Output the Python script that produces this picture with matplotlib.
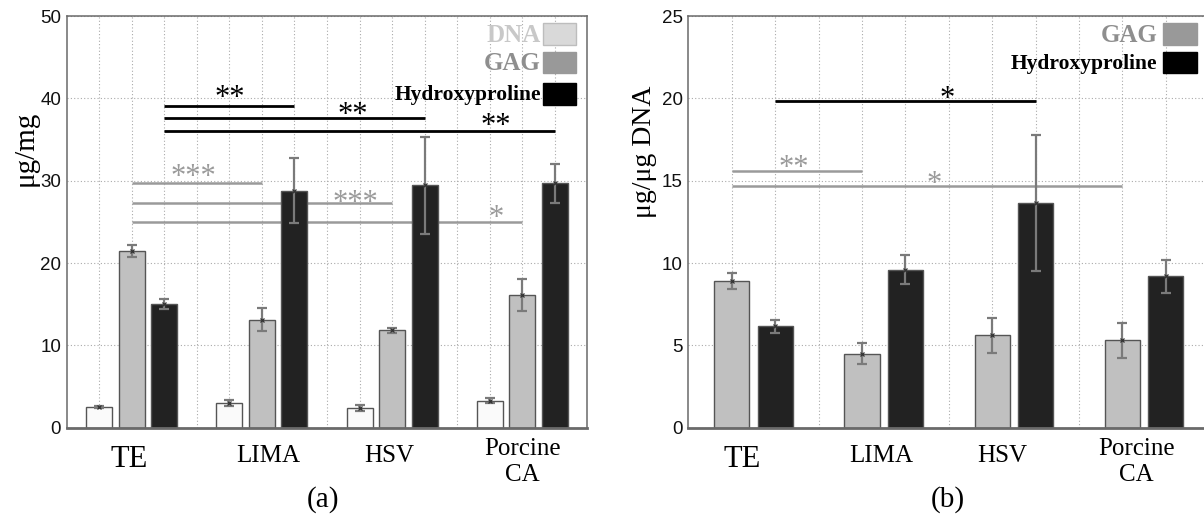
import numpy as np
import matplotlib
matplotlib.use("Agg")
import matplotlib.pyplot as plt
from matplotlib.patches import Rectangle
from matplotlib.transforms import blended_transform_factory

# ---- data -------------------------------------------------------------
groups = ["TE", "LIMA", "HSV", "Porcine\nCA"]

# (a) content per tissue mass, ug/mg
a_dna = [2.5, 3.0, 2.4, 3.3]
a_dna_err = [0.15, 0.35, 0.35, 0.3]
a_gag = [21.5, 13.1, 11.85, 16.1]
a_gag_err = [0.75, 1.4, 0.3, 1.9]
a_hyp = [15.0, 28.8, 29.45, 29.7]
a_hyp_err = [0.6, 3.9, 5.9, 2.35]

# (b) content normalised to DNA, ug/ug DNA
b_gag = [8.9, 4.5, 5.6, 5.3]
b_gag_err = [0.48, 0.63, 1.08, 1.05]
b_hyp = [6.15, 9.6, 13.65, 9.2]
b_hyp_err = [0.38, 0.9, 4.15, 1.0]

# significance brackets: (series, group from, group to, height, stars)
a_sig = [("hyp", 0, 1, 39.1, "**"), ("hyp", 0, 2, 37.6, "**"), ("hyp", 0, 3, 36.0, "**"),
         ("gag", 0, 1, 29.68, "***"), ("gag", 0, 2, 27.3, "***"), ("gag", 0, 3, 25.0, "*")]
b_sig = [("hyp", 0, 2, 19.82, "*"), ("gag", 0, 1, 15.6, "**"), ("gag", 0, 3, 14.7, "*")]

# star label placement (x, y centre) for each bracket
a_star_pos = [(1.75, 40.7), (2.7, 38.7), (3.8, 37.3), (1.47, 31.1), (2.72, 27.9), (3.8, 26.1)]
b_star_pos = [(2.49, 20.3), (1.31, 16.1), (2.39, 15.1)]

# ---- styling ----------------------------------------------------------
C_DNA, C_GAG, C_HYP = "#fafafa", "#c0c0c0", "#222222"
C_ERR = "#7a7a7a"
C_SIG_GRAY = "#9a9a9a"
SERIF = ["Liberation Serif", "DejaVu Serif"]
SANS = ["Liberation Sans", "DejaVu Sans"]
STAR_FS = 22

fig = plt.figure(figsize=(12.04, 5.15), dpi=100)
axA = fig.add_axes([0.0554, 0.1695, 0.4324, 0.7994])
axB = fig.add_axes([0.5718, 0.1695, 0.4324, 0.7994])


def style_axes(ax, ylim, yticks, gridx):
    ax.set_xlim(0.5, 4.5)
    ax.set_ylim(*ylim)
    ax.set_yticks(yticks)
    ax.set_xticks(gridx)
    ax.set_xticklabels([])
    ax.tick_params(axis="x", length=0)
    ax.tick_params(axis="y", length=0, pad=4, labelsize=13.5, labelcolor="#111111")
    for lab in ax.get_yticklabels():
        lab.set_fontfamily(SANS)
    ax.grid(True, linestyle=(0, (1, 2)), color="#aaaaaa", linewidth=0.8, zorder=0)
    ax.set_axisbelow(True)
    for s in ax.spines.values():
        s.set_color("#6a6a6a")
        s.set_linewidth(1.1)
    ax.spines["bottom"].set_linewidth(2.0)


def draw_series(ax, xs, vals, errs, color, width):
    ax.bar(xs, vals, width=width, color=color, edgecolor="#555555", linewidth=1.0, zorder=2)
    ax.errorbar(xs, vals, yerr=errs, fmt="none", ecolor=C_ERR, elinewidth=1.6,
                capsize=3.6, capthick=1.6, zorder=4)
    ax.plot(xs, vals, linestyle="none", marker="x", markersize=3.5,
            color="#333333", markeredgewidth=0.9, zorder=5)


def draw_sig(ax, positions, sig, star_pos):
    for (series, g0, g1, h, stars), (sx, sy) in zip(sig, star_pos):
        x0, x1 = positions[series][g0], positions[series][g1]
        black = series == "hyp"
        col = "black" if black else C_SIG_GRAY
        ax.plot([x0, x1], [h, h], color=col, linewidth=2.0 if black else 1.8,
                solid_capstyle="butt", zorder=3 if black else 1.5)
        # the asterisk glyph sits about 0.44 em above the baseline
        ax.annotate(stars, (sx, sy), xytext=(0, -0.44 * STAR_FS), textcoords="offset points",
                    ha="center", va="baseline", fontsize=STAR_FS, color=col,
                    family=SERIF, zorder=6)


def draw_xlabels(ax, label_x, panel, panel_x):
    tr = blended_transform_factory(ax.transData, ax.transAxes)
    sizes = [22, 18, 18, 18]
    ys = [-0.0955, -0.0843, -0.0843, -0.1287]
    for name, x, fs, y in zip(groups, label_x, sizes, ys):
        ax.text(x, y, name, transform=tr, ha="center", va="baseline", fontsize=fs,
                family=SERIF, linespacing=1.22, multialignment="center")
    ax.text(panel_x, -0.192, panel, transform=tr, ha="center", va="baseline",
            fontsize=21, family=SERIF)


def draw_key(ax, entries, text_x, box_x):
    rows = [(0.9823, 0.9296), (0.9133, 0.8608), (0.8365, 0.7838)]
    for (label, face, edge, tcol, fs), (top, bot) in zip(entries, rows):
        ax.add_patch(Rectangle((box_x, bot), 0.064, top - bot, transform=ax.transAxes,
                               facecolor=face, edgecolor=edge, linewidth=1.0,
                               zorder=7, clip_on=False))
        ax.text(text_x, (top + bot) / 2 - 0.003, label, transform=ax.transAxes,
                ha="right", va="center", fontsize=fs, fontweight="bold",
                color=tcol, family=SERIF, zorder=7)


# ---- panel (a) --------------------------------------------------------
g = np.arange(1, len(groups) + 1)
posA = {"dna": g - 0.25, "gag": g + 0.0, "hyp": g + 0.25}
style_axes(axA, (0, 50), [0, 10, 20, 30, 40, 50], np.arange(0.75, 4.26, 0.25))
draw_series(axA, posA["dna"], a_dna, a_dna_err, C_DNA, 0.2)
draw_series(axA, posA["gag"], a_gag, a_gag_err, C_GAG, 0.2)
draw_series(axA, posA["hyp"], a_hyp, a_hyp_err, C_HYP, 0.2)
draw_sig(axA, posA, a_sig, a_star_pos)
draw_xlabels(axA, [0.98, 2.05, 2.98, 4.0], "(a)", 2.47)
draw_key(axA, [("DNA", "#d9d9d9", "#bdbdbd", "#c8c8c8", 18),
               ("GAG", "#999999", "#999999", "#8e8e8e", 18),
               ("Hydroxyproline", "#000000", "#000000", "#000000", 15.5)],
         text_x=0.911, box_x=0.9143)
fig.text(0.0216, 0.7126, "\u03bcg/mg", rotation=90, ha="center", va="center",
         fontsize=21, family=SERIF)

# ---- panel (b) --------------------------------------------------------
posB = {"gag": g - 1 / 6, "hyp": g + 1 / 6}
style_axes(axB, (0, 25), [0, 5, 10, 15, 20, 25], np.arange(5 / 6, 4.2, 1 / 3))
draw_series(axB, posB["gag"], b_gag, b_gag_err, C_GAG, 0.27)
draw_series(axB, posB["hyp"], b_hyp, b_hyp_err, C_HYP, 0.27)
draw_sig(axB, posB, b_sig, b_star_pos)
draw_xlabels(axB, [0.91, 1.98, 2.91, 3.94], "(b)", 2.49)
draw_key(axB, [("GAG", "#999999", "#999999", "#8e8e8e", 18),
               ("Hydroxyproline", "#000000", "#000000", "#000000", 15.5)],
         text_x=0.9005, box_x=0.912)
fig.text(0.5357, 0.705, "\u03bcg/\u03bcg DNA", rotation=90, ha="center", va="center",
         fontsize=20, family=SERIF)

fig.savefig("out.png", dpi=100)
